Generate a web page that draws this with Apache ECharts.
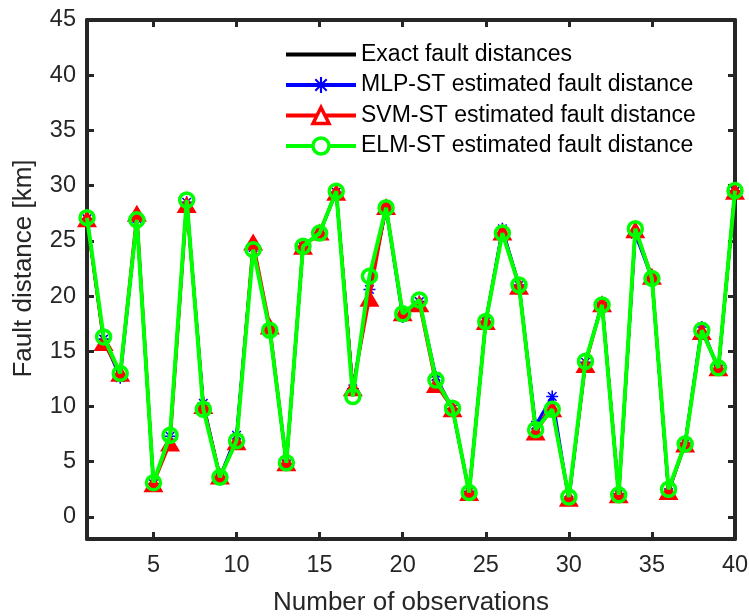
<!DOCTYPE html>
<html>
<head>
<meta charset="utf-8">
<script src="https://cdn.jsdelivr.net/npm/echarts@6/dist/echarts.min.js"></script>
<style>html,body{margin:0;padding:0;background:#fff;}#c{width:749px;height:616px;}</style>
</head>
<body>
<div id="c"></div>
<script>
var observations = [1,2,3,4,5,6,7,8,9,10,11,12,13,14,15,16,17,18,19,20,21,22,23,24,25,26,27,28,29,30,31,32,33,34,35,36,37,38,39,40];
var exactDist = [27.0,16.0,12.9,27.0,3.1,7.2,28.6,10.0,3.7,7.1,24.4,17.0,4.9,24.5,25.7,29.5,11.5,20.5,28.0,18.3,19.5,12.5,9.8,2.2,17.7,25.9,21.0,8.0,10.0,1.7,14.0,19.3,2.0,25.9,21.6,2.4,6.7,17.0,13.4,29.5];
var mlpDist = [27.0,16.1,12.6,27.0,3.0,7.3,28.5,10.3,3.6,7.4,24.4,16.9,4.8,24.5,25.7,29.4,11.6,20.6,27.9,18.1,19.5,12.7,9.8,2.3,17.7,26.1,21.0,8.3,10.9,1.5,14.0,19.4,2.1,25.6,21.6,2.2,6.7,17.2,13.4,29.5];
var svmDist = [27.0,15.8,13.0,27.5,3.0,6.7,28.3,10.1,3.7,6.8,24.9,17.3,4.9,24.5,25.8,29.4,11.7,19.8,28.1,18.5,19.3,12.0,9.8,2.2,17.7,25.8,20.9,7.7,9.8,1.7,13.8,19.3,2.0,26.0,21.8,2.3,6.6,16.8,13.5,29.5];
var elmDist = [27.1,16.3,13.0,26.9,3.1,7.4,28.7,9.75,3.6,6.9,24.2,16.9,4.9,24.5,25.7,29.5,10.9,21.8,28.0,18.4,19.65,12.4,9.85,2.2,17.7,25.7,21.0,7.9,9.75,1.8,14.1,19.2,2.0,26.1,21.6,2.5,6.6,16.9,13.5,29.55];
var xTicks = [5,10,15,20,25,30,35,40];
var yTicks = [0,5,10,15,20,25,30,35,40,45];
var seriesNames = ['Exact fault distances','MLP-ST estimated fault distance','SVM-ST estimated fault distance','ELM-ST estimated fault distance'];

function pairs(arr){ return observations.map(function(x,i){ return [x, arr[i]]; }); }

var axisColor = '#262626';
var FONT = 'Liberation Sans, Arial, Helvetica, sans-serif';
var asterisk = 'path://M-0.8,-6L0.8,-6L0.8,6L-0.8,6Z M-6,-0.8L6,-0.8L6,0.8L-6,0.8Z M-4.8,-3.7L-3.7,-4.8L4.8,3.7L3.7,4.8Z M3.7,-4.8L4.8,-3.7L-3.7,4.8L-4.8,3.7Z';

function frameAxis(pos, isX){
  return {
    type:'value', min:isX?1:-2, max:isX?40:45, position:pos,
    axisLine:{show:true, onZero:false, lineStyle:{color:axisColor, width:4}},
    axisTick:{show:true, inside:true, length:7, lineStyle:{color:axisColor, width:3}, customValues:isX?xTicks:yTicks},
    axisLabel:{show:false},
    splitLine:{show:false}
  };
}

var chart = echarts.init(document.getElementById('c'), null, {renderer:'canvas'});
chart.setOption({
  animation:false,
  backgroundColor:'#fff',
  textStyle:{fontFamily:FONT},
  grid:{left:87, right:14, top:20, bottom:77, containLabel:false, outerBoundsMode:'none'},
  legend:{
    orient:'vertical', left:279, top:38, itemWidth:70, itemHeight:20, itemGap:7.5,
    textStyle:{fontSize:23, color:'#000', fontFamily:FONT, lineHeight:20},
    data:[
      {name:seriesNames[0], itemStyle:{color:'rgba(0,0,0,0)', borderWidth:0}, lineStyle:{width:4}},
      {name:seriesNames[1], lineStyle:{width:4}},
      {name:seriesNames[2], itemStyle:{color:'#ffffff', borderColor:'#ff0000', borderWidth:3.5}, lineStyle:{width:4}},
      {name:seriesNames[3], itemStyle:{color:'#ffffff', borderColor:'#00ff00', borderWidth:3.5}, lineStyle:{width:4}}
    ]
  },
  xAxis:[{
    type:'value', min:1, max:40, position:'bottom',
    name:'Number of observations', nameLocation:'middle', nameGap:51,
    nameTextStyle:{fontSize:26, color:axisColor, fontFamily:FONT},
    axisLine:{show:true, onZero:false, lineStyle:{color:axisColor, width:4}},
    axisTick:{show:true, inside:true, length:7, lineStyle:{color:axisColor, width:3}, customValues:xTicks},
    axisLabel:{fontSize:23.5, color:axisColor, margin:15, customValues:xTicks, fontFamily:FONT},
    splitLine:{show:false}
  }, frameAxis('top', true)],
  yAxis:[{
    type:'value', min:-2, max:45, position:'left',
    name:'Fault distance [km]', nameLocation:'middle', nameGap:50,
    nameTextStyle:{fontSize:26, color:axisColor, fontFamily:FONT, padding:[0,0,0,22]},
    axisLine:{show:true, onZero:false, lineStyle:{color:axisColor, width:4}},
    axisTick:{show:true, inside:true, length:7, lineStyle:{color:axisColor, width:3}, customValues:yTicks},
    axisLabel:{fontSize:23.5, color:axisColor, margin:11, customValues:yTicks, fontFamily:FONT},
    splitLine:{show:false}
  }, frameAxis('right', false)],
  series:[{
    name:seriesNames[0], type:'line', data:pairs(exactDist), z:2,
    symbol:'circle', symbolSize:3,
    lineStyle:{color:'#000', width:3}, itemStyle:{color:'#000'}
  },{
    name:seriesNames[1], type:'line', data:pairs(mlpDist), z:3,
    symbol:asterisk, symbolSize:12,
    lineStyle:{color:'#0000ff', width:3}, itemStyle:{color:'#0000ff'}
  },{
    name:seriesNames[2], type:'line', data:pairs(svmDist), z:4,
    symbol:'triangle', symbolSize:[20,17],
    lineStyle:{color:'#ff0000', width:3}, itemStyle:{color:'#ff0000'}
  },{
    name:seriesNames[3], type:'line', data:pairs(elmDist), z:5,
    symbol:'circle', symbolSize:14,
    lineStyle:{color:'#00ff00', width:4}, itemStyle:{color:'rgba(0,0,0,0)', borderColor:'#00ff00', borderWidth:3.5}
  }]
});
</script>
</body>
</html>
